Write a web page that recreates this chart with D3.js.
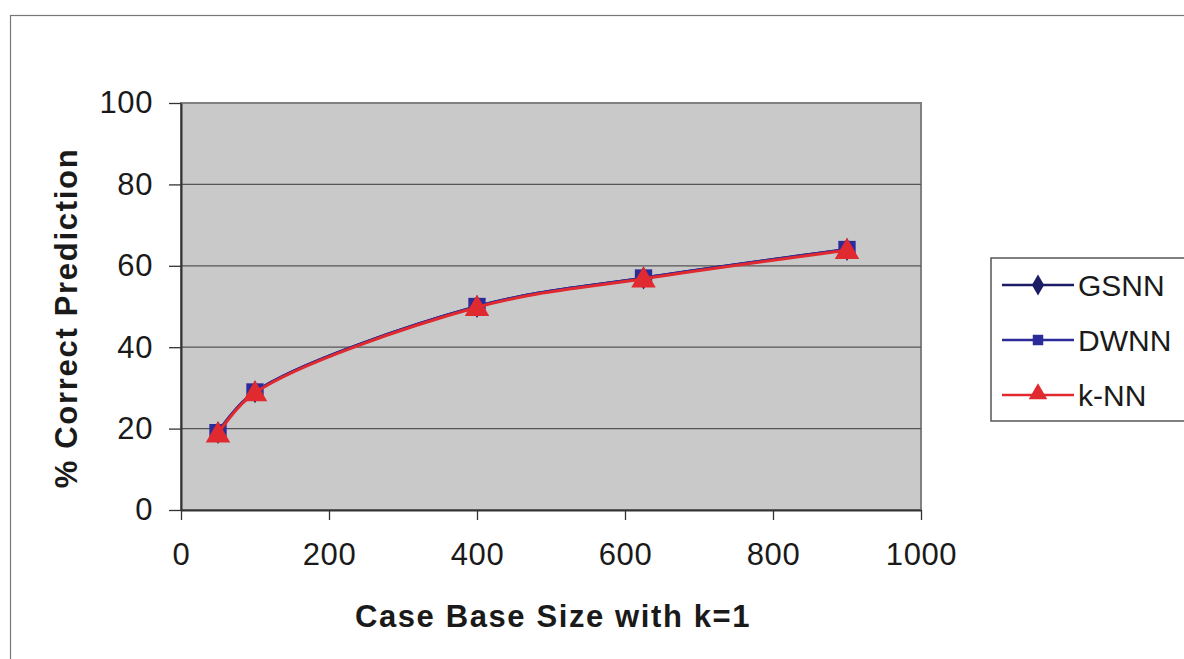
<!DOCTYPE html>
<html>
<head>
<meta charset="utf-8">
<script src="https://cdn.jsdelivr.net/npm/d3@7"></script>
<style>
  html, body { margin: 0; padding: 0; background: #fff; }
  svg { display: block; font-family: "Liberation Sans", Arial, sans-serif; }
</style>
</head>
<body>
<svg id="chart" width="1184" height="659"></svg>
<script>
// Case base sizes (x) and % correct prediction for each method
const caseBaseSizes = [50, 100, 400, 625, 900];
const gsnn = [19, 29, 50, 57, 64];
const dwnn = [19, 29, 50, 57, 64];
const knn  = [18.7, 28.8, 49.8, 56.8, 63.8];

const xTicks = [0, 200, 400, 600, 800, 1000];
const yTicks = [0, 20, 40, 60, 80, 100];

const seriesNames = ["GSNN", "DWNN", "k-NN"];
const seriesValues = [gsnn, dwnn, knn];
const seriesColors = ["#1c1c66", "#2b2b9a", "#e02a30"];
const seriesSymbols = [d3.symbolDiamond, d3.symbolSquare, d3.symbolTriangle];

const FONT = "'Liberation Sans', Arial, sans-serif";
const svg = d3.select("#chart");

// outer chart frame
svg.append("rect")
  .attr("x", 10.5).attr("y", 15.5)
  .attr("width", 1190).attr("height", 700)
  .attr("fill", "#fff").attr("stroke", "#777").attr("stroke-width", 1.2);

const plot = { left: 181, right: 921, top: 103, bottom: 510 };

const x = d3.scaleLinear().domain([0, 1000]).range([plot.left, plot.right]);
const y = d3.scaleLinear().domain([0, 100]).range([plot.bottom, plot.top]);

// plot background
svg.append("rect")
  .attr("x", plot.left).attr("y", plot.top)
  .attr("width", plot.right - plot.left).attr("height", plot.bottom - plot.top)
  .attr("fill", "#c9c9c9").attr("stroke", "#808080").attr("stroke-width", 2);

// horizontal gridlines
svg.append("g")
  .selectAll("line")
  .data(yTicks.filter(t => t > 0 && t < 100))
  .join("line")
  .attr("x1", plot.left).attr("x2", plot.right)
  .attr("y1", d => y(d)).attr("y2", d => y(d))
  .attr("stroke", "#555").attr("stroke-width", 1.3);

// axes
const xAxis = svg.append("g")
  .attr("transform", `translate(0,${plot.bottom})`)
  .call(d3.axisBottom(x).tickValues(xTicks).tickFormat(d3.format("d"))
    .tickSize(10).tickPadding(23).tickSizeOuter(0));
const yAxis = svg.append("g")
  .attr("transform", `translate(${plot.left},0)`)
  .call(d3.axisLeft(y).tickValues(yTicks).tickFormat(d3.format("d"))
    .tickSize(12).tickPadding(16).tickSizeOuter(0));

[xAxis, yAxis].forEach(a => {
  a.attr("font-size", null).attr("font-family", null);
  a.select(".domain").attr("stroke", "#333").attr("stroke-width", 2);
  a.selectAll(".tick line").attr("stroke", "#333").attr("stroke-width", 1.3);
  a.selectAll(".tick text")
    .attr("fill", "#1a1a1a")
    .attr("font-size", 31)
    .attr("letter-spacing", 0.6)
    .attr("font-family", FONT);
});

// axis titles
svg.append("text")
  .attr("x", 553).attr("y", 627)
  .attr("text-anchor", "middle")
  .attr("font-family", FONT)
  .attr("letter-spacing", 1.6)
  .attr("font-size", 31).attr("font-weight", "bold").attr("fill", "#1a1a1a")
  .text("Case Base Size with k=1");

svg.append("text")
  .attr("transform", "translate(77,318) rotate(-90)")
  .attr("text-anchor", "middle")
  .attr("font-family", FONT)
  .attr("letter-spacing", 1.7)
  .attr("font-size", 31).attr("font-weight", "bold").attr("fill", "#1a1a1a")
  .text("% Correct Prediction");

// series lines and markers
const line = d3.line()
  .x((d, i) => x(caseBaseSizes[i]))
  .y(d => y(d))
  .curve(d3.curveCatmullRom.alpha(0.5));

const markSizes = [150, 300, 260];
seriesValues.forEach((vals, s) => {
  const g = svg.append("g");
  g.append("path")
    .datum(vals)
    .attr("d", line)
    .attr("fill", "none")
    .attr("stroke", seriesColors[s])
    .attr("stroke-width", 3);
  g.selectAll("path.mark")
    .data(vals)
    .join("path")
    .attr("class", "mark")
    .attr("transform", (d, i) => `translate(${x(caseBaseSizes[i])},${y(d) + (s === 2 ? 1.5 : 0)})`)
    .attr("d", d3.symbol().type(seriesSymbols[s]).size(markSizes[s]))
    .attr("fill", seriesColors[s]);
});

// legend
const legend = svg.append("g");
legend.append("rect")
  .attr("x", 991).attr("y", 258)
  .attr("width", 220).attr("height", 163)
  .attr("fill", "#fff").attr("stroke", "#555").attr("stroke-width", 1.5);

const legendY = [285, 340, 395];
const legendSizes = [130, 110, 150];
seriesNames.forEach((name, s) => {
  const ly = legendY[s];
  legend.append("line")
    .attr("x1", 1002).attr("x2", 1074).attr("y1", ly).attr("y2", ly)
    .attr("stroke", seriesColors[s]).attr("stroke-width", 2.5);
  legend.append("path")
    .attr("transform", `translate(1038,${ly + (s === 2 ? -1 : 0)})`)
    .attr("d", d3.symbol().type(seriesSymbols[s]).size(legendSizes[s]))
    .attr("fill", seriesColors[s]);
  legend.append("text")
    .attr("x", 1078).attr("y", ly + 11)
    .attr("font-family", FONT)
    .attr("font-size", 30).attr("fill", "#1a1a1a")
    .text(name);
});
</script>
</body>
</html>
